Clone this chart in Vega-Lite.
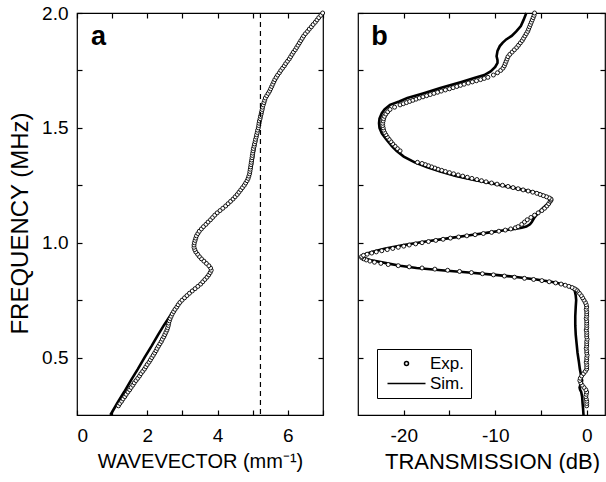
{
  "$schema": "https://vega.github.io/schema/vega-lite/v6.json",
  "padding": {"left": 7, "top": 3, "right": 1, "bottom": 0},
  "bounds": "flush",
  "spacing": 35,
  "config": {
    "font": "Liberation Sans",
    "view": {"stroke": "black", "strokeWidth": 1.2},
    "axis": {"domain": false, "grid": false, "ticks": true, "tickColor": "black", "tickOpacity": 1, "tickWidth": 1.2, "tickSize": 5, "offset": -5, "zindex": 1, "labelFontSize": 19, "labelColor": "black", "titleFontSize": 21, "titleFontWeight": "normal", "titleColor": "black"},
    "axisX": {"labelPadding": 11, "titlePadding": 6},
    "axisY": {"labelPadding": 9, "titlePadding": 9}
  },
  "datasets": {
    "expA": [
      {"f":0.29,"k":1.18},{"f":0.30,"k":1.22},{"f":0.31,"k":1.27},{"f":0.32,"k":1.31},{"f":0.33,"k":1.36},{"f":0.34,"k":1.40},{"f":0.35,"k":1.45},{"f":0.36,"k":1.50},{"f":0.37,"k":1.54},{"f":0.38,"k":1.59},{"f":0.39,"k":1.63},{"f":0.40,"k":1.68},{"f":0.41,"k":1.73},{"f":0.42,"k":1.78},{"f":0.43,"k":1.82},{"f":0.44,"k":1.87},{"f":0.45,"k":1.92},{"f":0.46,"k":1.96},{"f":0.47,"k":2.00},{"f":0.48,"k":2.05},{"f":0.49,"k":2.09},{"f":0.50,"k":2.13},{"f":0.51,"k":2.17},{"f":0.52,"k":2.21},{"f":0.53,"k":2.25},{"f":0.54,"k":2.28},{"f":0.55,"k":2.32},{"f":0.56,"k":2.36},{"f":0.57,"k":2.40},{"f":0.58,"k":2.43},{"f":0.59,"k":2.47},{"f":0.60,"k":2.50},{"f":0.61,"k":2.53},{"f":0.62,"k":2.56},{"f":0.63,"k":2.58},{"f":0.64,"k":2.60},{"f":0.65,"k":2.61},{"f":0.66,"k":2.63},{"f":0.67,"k":2.65},{"f":0.68,"k":2.68},{"f":0.69,"k":2.71},{"f":0.70,"k":2.75},{"f":0.71,"k":2.79},{"f":0.72,"k":2.84},{"f":0.73,"k":2.88},{"f":0.74,"k":2.93},{"f":0.75,"k":2.99},{"f":0.76,"k":3.06},{"f":0.77,"k":3.13},{"f":0.78,"k":3.20},{"f":0.79,"k":3.28},{"f":0.80,"k":3.36},{"f":0.81,"k":3.44},{"f":0.82,"k":3.52},{"f":0.83,"k":3.58},{"f":0.84,"k":3.64},{"f":0.85,"k":3.70},{"f":0.86,"k":3.75},{"f":0.87,"k":3.79},{"f":0.88,"k":3.82},{"f":0.89,"k":3.80},{"f":0.90,"k":3.75},{"f":0.91,"k":3.68},{"f":0.92,"k":3.61},{"f":0.93,"k":3.54},{"f":0.94,"k":3.48},{"f":0.95,"k":3.43},{"f":0.96,"k":3.38},{"f":0.97,"k":3.35},{"f":0.98,"k":3.33},{"f":0.99,"k":3.33},{"f":1.00,"k":3.34},{"f":1.01,"k":3.36},{"f":1.02,"k":3.38},{"f":1.03,"k":3.40},{"f":1.04,"k":3.44},{"f":1.05,"k":3.48},{"f":1.06,"k":3.54},{"f":1.07,"k":3.60},{"f":1.08,"k":3.67},{"f":1.09,"k":3.73},{"f":1.10,"k":3.80},{"f":1.11,"k":3.86},{"f":1.12,"k":3.92},{"f":1.13,"k":3.99},{"f":1.14,"k":4.07},{"f":1.15,"k":4.15},{"f":1.16,"k":4.23},{"f":1.17,"k":4.30},{"f":1.18,"k":4.37},{"f":1.19,"k":4.44},{"f":1.20,"k":4.50},{"f":1.21,"k":4.56},{"f":1.22,"k":4.61},{"f":1.23,"k":4.66},{"f":1.24,"k":4.71},{"f":1.25,"k":4.76},{"f":1.26,"k":4.80},{"f":1.27,"k":4.84},{"f":1.28,"k":4.87},{"f":1.29,"k":4.89},{"f":1.30,"k":4.91},{"f":1.31,"k":4.92},{"f":1.32,"k":4.93},{"f":1.33,"k":4.94},{"f":1.34,"k":4.95},{"f":1.35,"k":4.96},{"f":1.36,"k":4.97},{"f":1.37,"k":4.98},{"f":1.38,"k":4.99},{"f":1.39,"k":5.00},{"f":1.40,"k":5.01},{"f":1.41,"k":5.02},{"f":1.42,"k":5.04},{"f":1.43,"k":5.05},{"f":1.44,"k":5.07},{"f":1.45,"k":5.08},{"f":1.46,"k":5.10},{"f":1.47,"k":5.11},{"f":1.48,"k":5.13},{"f":1.49,"k":5.14},{"f":1.50,"k":5.16},{"f":1.51,"k":5.17},{"f":1.52,"k":5.18},{"f":1.53,"k":5.19},{"f":1.54,"k":5.21},{"f":1.55,"k":5.22},{"f":1.56,"k":5.24},{"f":1.57,"k":5.25},{"f":1.58,"k":5.27},{"f":1.59,"k":5.28},{"f":1.60,"k":5.30},{"f":1.61,"k":5.32},{"f":1.62,"k":5.34},{"f":1.63,"k":5.36},{"f":1.64,"k":5.40},{"f":1.65,"k":5.44},{"f":1.66,"k":5.48},{"f":1.67,"k":5.51},{"f":1.68,"k":5.54},{"f":1.69,"k":5.57},{"f":1.70,"k":5.60},{"f":1.71,"k":5.63},{"f":1.72,"k":5.67},{"f":1.73,"k":5.71},{"f":1.74,"k":5.76},{"f":1.75,"k":5.80},{"f":1.76,"k":5.85},{"f":1.77,"k":5.90},{"f":1.78,"k":5.94},{"f":1.79,"k":5.99},{"f":1.80,"k":6.04},{"f":1.81,"k":6.08},{"f":1.82,"k":6.12},{"f":1.83,"k":6.16},{"f":1.84,"k":6.21},{"f":1.85,"k":6.25},{"f":1.86,"k":6.29},{"f":1.87,"k":6.33},{"f":1.88,"k":6.37},{"f":1.89,"k":6.41},{"f":1.90,"k":6.45},{"f":1.91,"k":6.50},{"f":1.92,"k":6.56},{"f":1.93,"k":6.61},{"f":1.94,"k":6.67},{"f":1.95,"k":6.72},{"f":1.96,"k":6.78},{"f":1.97,"k":6.83},{"f":1.98,"k":6.88},{"f":1.99,"k":6.94},{"f":2.00,"k":6.99}
    ],
    "simA": [
      {"f":0.25,"k":0.95},{"f":0.30,"k":1.14},{"f":0.35,"k":1.34},{"f":0.40,"k":1.53},{"f":0.45,"k":1.73},{"f":0.50,"k":1.92},{"f":0.55,"k":2.12},{"f":0.60,"k":2.31},{"f":0.64,"k":2.47},{"f":0.67,"k":2.60},{"f":0.70,"k":2.74},{"f":0.73,"k":2.88},{"f":0.76,"k":3.05},{"f":0.79,"k":3.27},{"f":0.82,"k":3.51},{"f":0.85,"k":3.69},{"f":0.87,"k":3.79},{"f":0.88,"k":3.82},{"f":0.89,"k":3.81},{"f":0.90,"k":3.76},{"f":0.92,"k":3.62},{"f":0.94,"k":3.48},{"f":0.96,"k":3.38},{"f":0.98,"k":3.33},{"f":1.00,"k":3.34},{"f":1.02,"k":3.38},{"f":1.04,"k":3.44},{"f":1.06,"k":3.54},{"f":1.08,"k":3.67},{"f":1.10,"k":3.80},{"f":1.13,"k":3.99},{"f":1.16,"k":4.23},{"f":1.19,"k":4.44},{"f":1.22,"k":4.62},{"f":1.25,"k":4.77},{"f":1.28,"k":4.88},{"f":1.31,"k":4.94},{"f":1.35,"k":4.99},{"f":1.40,"k":5.04},{"f":1.45,"k":5.10},{"f":1.50,"k":5.17},{"f":1.55,"k":5.24},{"f":1.60,"k":5.31},{"f":1.63,"k":5.37},{"f":1.66,"k":5.48},{"f":1.70,"k":5.61},{"f":1.75,"k":5.80},{"f":1.80,"k":6.04},{"f":1.85,"k":6.25},{"f":1.90,"k":6.46},{"f":1.95,"k":6.72},{"f":2.00,"k":7.00}
    ],
    "expB": [
      {"f":0.29,"t":0.0},{"f":0.30,"t":0.0},{"f":0.31,"t":0.0},{"f":0.32,"t":-0.05},{"f":0.33,"t":-0.1},{"f":0.34,"t":-0.05},{"f":0.35,"t":0.0},{"f":0.36,"t":-0.1},{"f":0.37,"t":-0.3},{"f":0.38,"t":-0.5},{"f":0.39,"t":-0.65},{"f":0.40,"t":-0.75},{"f":0.41,"t":-0.7},{"f":0.42,"t":-0.55},{"f":0.43,"t":-0.35},{"f":0.44,"t":-0.15},{"f":0.45,"t":0.0},{"f":0.46,"t":0.0},{"f":0.47,"t":0.0},{"f":0.48,"t":-0.05},{"f":0.49,"t":0.0},{"f":0.50,"t":0.0},{"f":0.51,"t":0.05},{"f":0.52,"t":0.0},{"f":0.53,"t":0.0},{"f":0.54,"t":-0.05},{"f":0.55,"t":0.0},{"f":0.56,"t":0.0},{"f":0.57,"t":0.0},{"f":0.58,"t":0.05},{"f":0.59,"t":0.0},{"f":0.60,"t":0.0},{"f":0.61,"t":0.0},{"f":0.62,"t":-0.05},{"f":0.63,"t":0.0},{"f":0.64,"t":0.0},{"f":0.65,"t":0.0},{"f":0.66,"t":0.0},{"f":0.67,"t":-0.05},{"f":0.68,"t":0.0},{"f":0.69,"t":0.0},{"f":0.70,"t":0.0},{"f":0.71,"t":-0.05},{"f":0.72,"t":0.0},{"f":0.73,"t":-0.05},{"f":0.74,"t":-0.15},{"f":0.75,"t":-0.3},{"f":0.76,"t":-0.45},{"f":0.77,"t":-0.6},{"f":0.78,"t":-0.8},{"f":0.79,"t":-1.0},{"f":0.795,"t":-1.15},{"f":0.80,"t":-1.35},{"f":0.805,"t":-1.6},{"f":0.81,"t":-1.95},{"f":0.815,"t":-2.35},{"f":0.82,"t":-2.8},{"f":0.825,"t":-3.4},{"f":0.83,"t":-4.1},{"f":0.835,"t":-4.9},{"f":0.84,"t":-5.8},{"f":0.845,"t":-6.8},{"f":0.85,"t":-7.9},{"f":0.855,"t":-9.0},{"f":0.86,"t":-10.2},{"f":0.865,"t":-11.4},{"f":0.87,"t":-12.6},{"f":0.875,"t":-13.9},{"f":0.88,"t":-15.2},{"f":0.885,"t":-16.6},{"f":0.89,"t":-18.0},{"f":0.895,"t":-19.4},{"f":0.90,"t":-20.6},{"f":0.905,"t":-21.7},{"f":0.91,"t":-22.5},{"f":0.915,"t":-23.2},{"f":0.92,"t":-23.7},{"f":0.925,"t":-24.1},{"f":0.93,"t":-24.4},{"f":0.935,"t":-24.6},{"f":0.94,"t":-24.6},{"f":0.945,"t":-24.4},{"f":0.95,"t":-24.0},{"f":0.955,"t":-23.5},{"f":0.96,"t":-23.0},{"f":0.965,"t":-22.4},{"f":0.97,"t":-21.8},{"f":0.975,"t":-21.2},{"f":0.98,"t":-20.6},{"f":0.985,"t":-20.0},{"f":0.99,"t":-19.4},{"f":0.995,"t":-18.7},{"f":1.00,"t":-18.0},{"f":1.005,"t":-17.3},{"f":1.01,"t":-16.5},{"f":1.015,"t":-15.7},{"f":1.02,"t":-14.9},{"f":1.025,"t":-14.0},{"f":1.03,"t":-13.1},{"f":1.035,"t":-12.2},{"f":1.04,"t":-11.3},{"f":1.045,"t":-10.4},{"f":1.05,"t":-9.6},{"f":1.055,"t":-8.9},{"f":1.06,"t":-8.3},{"f":1.065,"t":-7.8},{"f":1.07,"t":-7.5},{"f":1.08,"t":-7.1},{"f":1.09,"t":-6.8},{"f":1.10,"t":-6.5},{"f":1.11,"t":-6.1},{"f":1.12,"t":-5.7},{"f":1.13,"t":-5.3},{"f":1.14,"t":-4.9},{"f":1.15,"t":-4.6},{"f":1.16,"t":-4.35},{"f":1.17,"t":-4.15},{"f":1.18,"t":-4.0},{"f":1.185,"t":-3.9},{"f":1.19,"t":-3.9},{"f":1.195,"t":-4.1},{"f":1.20,"t":-4.4},{"f":1.205,"t":-4.75},{"f":1.21,"t":-5.1},{"f":1.215,"t":-5.45},{"f":1.22,"t":-5.9},{"f":1.225,"t":-6.4},{"f":1.23,"t":-6.95},{"f":1.235,"t":-7.5},{"f":1.24,"t":-8.05},{"f":1.245,"t":-8.6},{"f":1.25,"t":-9.2},{"f":1.255,"t":-9.8},{"f":1.26,"t":-10.4},{"f":1.265,"t":-11.0},{"f":1.27,"t":-11.5},{"f":1.275,"t":-12.0},{"f":1.28,"t":-12.55},{"f":1.285,"t":-13.05},{"f":1.29,"t":-13.55},{"f":1.295,"t":-14.05},{"f":1.30,"t":-14.55},{"f":1.305,"t":-15.0},{"f":1.31,"t":-15.45},{"f":1.315,"t":-15.85},{"f":1.32,"t":-16.25},{"f":1.325,"t":-16.6},{"f":1.33,"t":-16.95},{"f":1.335,"t":-17.3},{"f":1.34,"t":-17.65},{"f":1.345,"t":-18.0},{"f":1.35,"t":-18.5},{"f":1.40,"t":-20.4},{"f":1.41,"t":-20.7},{"f":1.42,"t":-20.95},{"f":1.43,"t":-21.2},{"f":1.44,"t":-21.4},{"f":1.45,"t":-21.6},{"f":1.46,"t":-21.8},{"f":1.47,"t":-21.95},{"f":1.48,"t":-22.1},{"f":1.49,"t":-22.2},{"f":1.50,"t":-22.25},{"f":1.51,"t":-22.3},{"f":1.52,"t":-22.3},{"f":1.53,"t":-22.25},{"f":1.54,"t":-22.2},{"f":1.55,"t":-22.1},{"f":1.56,"t":-21.95},{"f":1.57,"t":-21.75},{"f":1.58,"t":-21.5},{"f":1.59,"t":-21.0},{"f":1.60,"t":-20.4},{"f":1.605,"t":-20.05},{"f":1.61,"t":-19.7},{"f":1.615,"t":-19.35},{"f":1.62,"t":-19.0},{"f":1.625,"t":-18.65},{"f":1.63,"t":-18.3},{"f":1.635,"t":-17.9},{"f":1.64,"t":-17.5},{"f":1.645,"t":-17.1},{"f":1.65,"t":-16.7},{"f":1.655,"t":-16.3},{"f":1.66,"t":-15.9},{"f":1.665,"t":-15.45},{"f":1.67,"t":-15.0},{"f":1.675,"t":-14.6},{"f":1.68,"t":-14.2},{"f":1.685,"t":-13.8},{"f":1.69,"t":-13.4},{"f":1.695,"t":-12.95},{"f":1.70,"t":-12.5},{"f":1.705,"t":-12.05},{"f":1.71,"t":-11.6},{"f":1.715,"t":-11.2},{"f":1.72,"t":-10.8},{"f":1.73,"t":-10.2},{"f":1.74,"t":-9.75},{"f":1.75,"t":-9.4},{"f":1.76,"t":-9.15},{"f":1.77,"t":-9.0},{"f":1.78,"t":-8.9},{"f":1.79,"t":-8.8},{"f":1.80,"t":-8.7},{"f":1.81,"t":-8.6},{"f":1.82,"t":-8.4},{"f":1.83,"t":-8.15},{"f":1.84,"t":-7.9},{"f":1.85,"t":-7.65},{"f":1.86,"t":-7.45},{"f":1.87,"t":-7.25},{"f":1.88,"t":-7.05},{"f":1.89,"t":-6.9},{"f":1.90,"t":-6.75},{"f":1.91,"t":-6.6},{"f":1.92,"t":-6.45},{"f":1.93,"t":-6.35},{"f":1.94,"t":-6.25},{"f":1.95,"t":-6.15},{"f":1.96,"t":-6.05},{"f":1.97,"t":-5.95},{"f":1.98,"t":-5.85},{"f":1.99,"t":-5.75},{"f":2.00,"t":-5.7}
    ],
    "simB": [
      {"f":0.25,"t":-0.35},{"f":0.28,"t":-0.4},{"f":0.30,"t":-0.45},{"f":0.33,"t":-0.5},{"f":0.35,"t":-0.6},{"f":0.36,"t":-0.72},{"f":0.37,"t":-0.78},{"f":0.38,"t":-0.7},{"f":0.39,"t":-0.55},{"f":0.40,"t":-0.5},{"f":0.42,"t":-0.6},{"f":0.45,"t":-0.75},{"f":0.48,"t":-0.85},{"f":0.52,"t":-1.0},{"f":0.56,"t":-1.1},{"f":0.60,"t":-1.2},{"f":0.64,"t":-1.25},{"f":0.68,"t":-1.25},{"f":0.72,"t":-1.2},{"f":0.75,"t":-1.15},{"f":0.77,"t":-1.2},{"f":0.79,"t":-1.3},{"f":0.80,"t":-1.5},{"f":0.81,"t":-1.9},{"f":0.82,"t":-2.7},{"f":0.83,"t":-3.9},{"f":0.84,"t":-5.5},{"f":0.85,"t":-7.5},{"f":0.86,"t":-10.0},{"f":0.87,"t":-12.9},{"f":0.88,"t":-15.9},{"f":0.89,"t":-18.6},{"f":0.90,"t":-20.4},{"f":0.91,"t":-21.8},{"f":0.92,"t":-23.1},{"f":0.925,"t":-23.7},{"f":0.93,"t":-24.1},{"f":0.935,"t":-24.4},{"f":0.94,"t":-24.5},{"f":0.945,"t":-24.45},{"f":0.95,"t":-24.2},{"f":0.96,"t":-23.5},{"f":0.975,"t":-22.0},{"f":0.99,"t":-20.0},{"f":1.005,"t":-17.6},{"f":1.02,"t":-15.0},{"f":1.035,"t":-12.4},{"f":1.045,"t":-10.6},{"f":1.055,"t":-8.8},{"f":1.06,"t":-7.9},{"f":1.065,"t":-7.1},{"f":1.07,"t":-6.6},{"f":1.08,"t":-6.2},{"f":1.09,"t":-6.0},{"f":1.11,"t":-5.7},{"f":1.13,"t":-5.3},{"f":1.15,"t":-4.8},{"f":1.17,"t":-4.25},{"f":1.18,"t":-3.95},{"f":1.187,"t":-3.85},{"f":1.193,"t":-3.95},{"f":1.20,"t":-4.3},{"f":1.215,"t":-5.3},{"f":1.23,"t":-6.9},{"f":1.244,"t":-8.6},{"f":1.26,"t":-10.6},{"f":1.273,"t":-12.3},{"f":1.29,"t":-14.3},{"f":1.31,"t":-16.0},{"f":1.33,"t":-17.5},{"f":1.35,"t":-18.8},{"f":1.375,"t":-20.0},{"f":1.40,"t":-20.8},{"f":1.42,"t":-21.3},{"f":1.45,"t":-21.9},{"f":1.476,"t":-22.4},{"f":1.50,"t":-22.65},{"f":1.52,"t":-22.7},{"f":1.54,"t":-22.65},{"f":1.564,"t":-22.4},{"f":1.58,"t":-22.1},{"f":1.60,"t":-21.5},{"f":1.615,"t":-20.5},{"f":1.63,"t":-19.6},{"f":1.65,"t":-17.9},{"f":1.673,"t":-16.0},{"f":1.70,"t":-13.7},{"f":1.717,"t":-12.3},{"f":1.73,"t":-11.2},{"f":1.746,"t":-10.5},{"f":1.765,"t":-10.0},{"f":1.783,"t":-9.75},{"f":1.795,"t":-9.75},{"f":1.812,"t":-9.85},{"f":1.835,"t":-9.75},{"f":1.856,"t":-9.5},{"f":1.87,"t":-9.2},{"f":1.885,"t":-8.8},{"f":1.90,"t":-8.2},{"f":1.92,"t":-7.7},{"f":1.943,"t":-7.2},{"f":1.97,"t":-6.9},{"f":2.00,"t":-6.6}
    ]
  },
  "hconcat": [
    {
      "width": 246,
      "height": 402,
      "layer": [
        {
          "data": {"name": "simA"},
          "mark": {"type": "line", "color": "black", "strokeWidth": 2.6},
          "encoding": {
            "x": {"field": "k", "type": "quantitative", "scale": {"domain": [0, 7], "nice": false, "zero": false},
                  "axis": {"orient": "bottom", "values": [0, 1, 2, 3, 4, 5, 6, 7], "labelExpr": "datum.value % 2 === 0 ? '' + datum.value : ''", "title": "WAVEVECTOR (mm⁻¹)", "titleFontSize": 20}},
            "y": {"field": "f", "type": "quantitative", "scale": {"domain": [0.25, 2.0], "nice": false, "zero": false},
                  "axis": {"orient": "left", "values": [0.5, 0.75, 1.0, 1.25, 1.5, 1.75, 2.0], "labelExpr": "datum.value % 0.5 === 0 ? format(datum.value, '.1f') : ''", "title": "FREQUENCY (MHz)", "titleY": 210, "titleFontSize": 24}},
            "order": {"field": "f", "type": "quantitative"}
          }
        },
        {
          "data": {"name": "expA"},
          "mark": {"type": "point", "shape": "circle", "filled": false, "fill": "white", "stroke": "black", "strokeWidth": 0.9, "size": 16, "opacity": 1},
          "encoding": {
            "x": {"field": "k", "type": "quantitative", "axis": {"orient": "top", "values": [0, 1, 2, 3, 4, 5, 6, 7], "labels": false, "title": null}},
            "y": {"field": "f", "type": "quantitative", "axis": {"orient": "right", "values": [0.5, 0.75, 1.0, 1.25, 1.5, 1.75, 2.0], "labels": false, "title": null}}
          }
        },
        {
          "data": {"values": [{}]},
          "mark": {"type": "rule", "color": "black", "strokeWidth": 1.2, "strokeDash": [5, 4]},
          "encoding": {"x": {"datum": 5.22, "type": "quantitative", "axis": null}}
        },
        {
          "data": {"values": [{}]},
          "mark": {"type": "text", "fontSize": 27, "fontWeight": "bold", "align": "left", "baseline": "alphabetic", "color": "black"},
          "encoding": {"x": {"datum": 0.4, "type": "quantitative", "axis": null}, "y": {"datum": 1.86, "type": "quantitative", "axis": null}, "text": {"value": "a"}}
        }
      ],
      "resolve": {"axis": {"x": "independent", "y": "independent"}}
    },
    {
      "width": 247,
      "height": 402,
      "layer": [
        {
          "data": {"name": "simB"},
          "mark": {"type": "line", "color": "black", "strokeWidth": 2.6},
          "encoding": {
            "x": {"field": "t", "type": "quantitative", "scale": {"domain": [-25, 2], "nice": false, "zero": false},
                  "axis": {"orient": "bottom", "values": [-20, -15, -10, -5, 0], "labelExpr": "datum.value % 10 === 0 ? '' + datum.value : ''", "title": "TRANSMISSION (dB)", "titleX": 134, "titleFontSize": 22}},
            "y": {"field": "f", "type": "quantitative", "scale": {"domain": [0.25, 2.0], "nice": false, "zero": false},
                  "axis": {"orient": "left", "values": [0.5, 0.75, 1.0, 1.25, 1.5, 1.75, 2.0], "labels": false, "title": null}},
            "order": {"field": "f", "type": "quantitative"}
          }
        },
        {
          "data": {"name": "expB"},
          "mark": {"type": "point", "filled": false, "fill": "white", "stroke": "black", "size": 16, "opacity": 1},
          "encoding": {
            "x": {"field": "t", "type": "quantitative", "axis": {"orient": "top", "values": [-20, -15, -10, -5, 0], "labels": false, "title": null}},
            "y": {"field": "f", "type": "quantitative", "axis": {"orient": "right", "values": [0.5, 0.75, 1.0, 1.25, 1.5, 1.75, 2.0], "labels": false, "title": null}},
            "shape": {"datum": "Exp.", "type": "ordinal", "scale": {"domain": ["Exp.", "Sim."], "range": ["circle", "M-9.5,0H9.5"]},
                      "legend": {"title": null, "orient": "none", "legendX": 300, "legendY": 336, "strokeColor": "black", "fillColor": "white", "padding": 6, "labelFontSize": 17, "labelColor": "black", "symbolSize": 16, "symbolOffset": 15, "labelOffset": 15, "rowPadding": 2,
                                 "encode": {"symbols": {"update": {"fill": {"value": "white"}, "stroke": {"value": "black"}, "opacity": {"value": 1}, "strokeWidth": {"signal": "datum.value === 'Sim.' ? 2.6 : 0.9"}}}}}},
            "strokeWidth": {"value": 0.9}
          }
        },
        {
          "data": {"values": [{}]},
          "mark": {"type": "text", "fontSize": 27, "fontWeight": "bold", "align": "left", "baseline": "alphabetic", "color": "black"},
          "encoding": {"x": {"datum": -23.55, "type": "quantitative", "axis": null}, "y": {"datum": 1.86, "type": "quantitative", "axis": null}, "text": {"value": "b"}}
        }
      ],
      "resolve": {"axis": {"x": "independent", "y": "independent"}}
    }
  ]
}
